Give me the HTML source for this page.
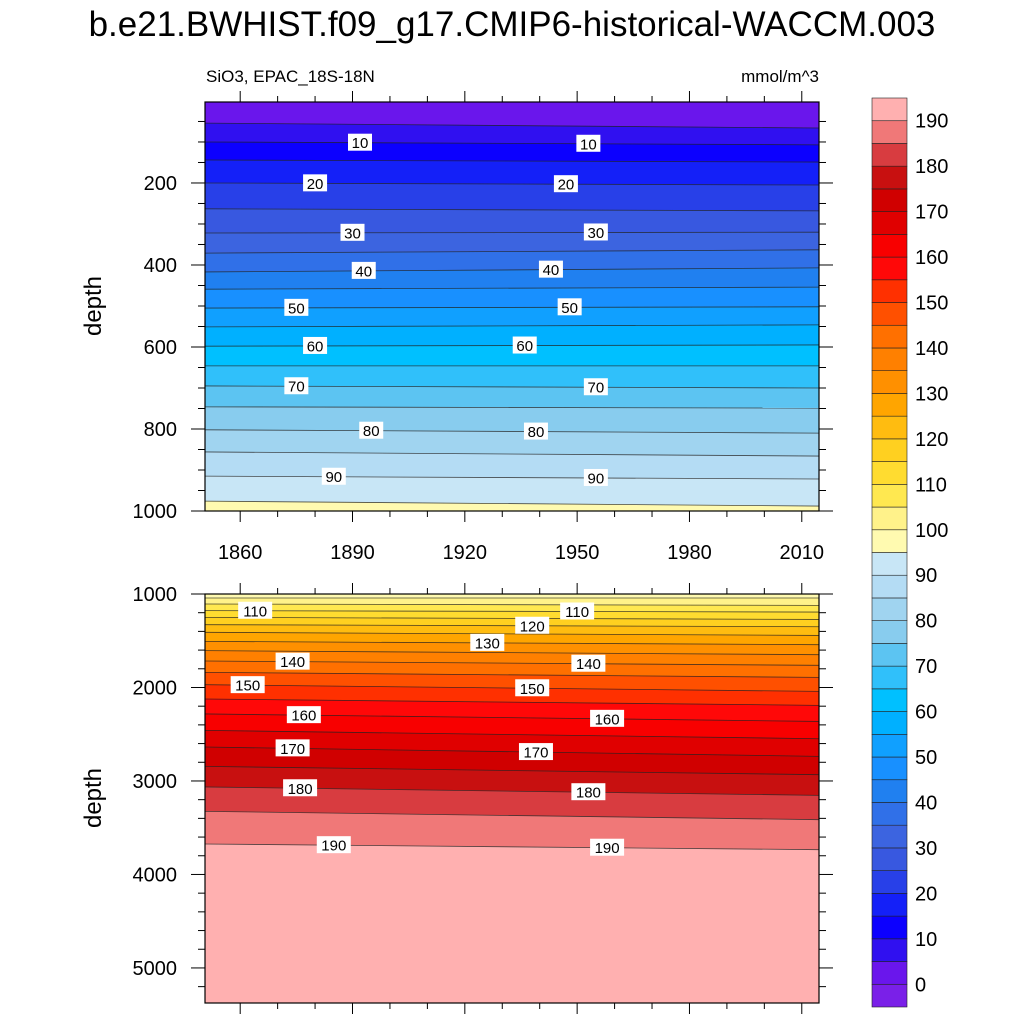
<!DOCTYPE html>
<html><head><meta charset="utf-8"><style>
body{margin:0;background:#fff;}
svg text{font-family:"Liberation Sans",sans-serif;fill:#000;}
</style></head><body>
<svg id="chart" width="1024" height="1024" viewBox="0 0 1024 1024" xmlns="http://www.w3.org/2000/svg">
<text x="512" y="36" font-size="35" text-anchor="middle">b.e21.BWHIST.f09_g17.CMIP6-historical-WACCM.003</text>
<text x="206" y="82" font-size="17">SiO3, EPAC_18S-18N</text>
<text x="819" y="82" font-size="17" text-anchor="end">mmol/m^3</text>
<text transform="translate(101,306) rotate(-90)" font-size="24" text-anchor="middle">depth</text>
<text transform="translate(101,798) rotate(-90)" font-size="24" text-anchor="middle">depth</text>
<g id="g"></g>
</svg>
<script>
// contour levels and their depths (m) at the first and last year
const levels = [5,10,15,20,25,30,35,40,45,50,55,60,65,70,75,80,85,90,95,100,105,110,115,120,125,130,135,140,145,150,155,160,165,170,175,180,185,190];
const depthStart = [54,100,144,200,263,322,371,417,459,505,551,598,646,695,746,802,856,915,976,1043,1107,1178,1250,1328,1410,1507,1606,1717,1838,1970,2123,2283,2459,2637,2844,3064,3325,3674];
const depthEnd = [66,107,149,205,268,320,363,407,454,502,546,595,646,700,749,810,866,922,988,1043,1122,1193,1272,1350,1443,1542,1649,1763,1892,2042,2191,2363,2548,2737,2933,3154,3414,3735];
const bandColors = ["#6A16EC","#3010F0","#0C00FF","#1420F8","#2840E8","#3858E0","#3C64E0","#3070E8","#2080F0","#1890FF","#10A0FF","#00B0FF","#00C0FF","#30C0FA","#5CC4F2","#88CCEE","#A0D4F0","#B4DCF4","#C8E6F6","#FFFAB0","#FFF28A","#FFE850","#FFDC30","#FFD020","#FFBC10","#FFA500","#FF9000","#FF8000","#FF7000","#FF5000","#FF3000","#FF0808","#F80000","#E00000","#D00000","#C81010","#D83C40","#F07878","#FFB0B0"];
const cbColors = ["#7A20E8"].concat(bandColors);
const cbLabels = [0,10,20,30,40,50,60,70,80,90,100,110,120,130,140,150,160,170,180,190];
const yearTicks = [1860,1890,1920,1950,1980,2010];
const topDepthTicks = [200,400,600,800,1000];
const botDepthTicks = [1000,2000,3000,4000,5000];
const labelsTop = [[10,1892],[10,1953],[20,1880],[20,1947],[30,1890],[30,1955],[40,1893],[40,1943],[50,1875],[50,1948],[60,1880],[60,1936],[70,1875],[70,1955],[80,1895],[80,1939],[90,1885],[90,1955]];
const labelsBot = [[110,1864],[110,1950],[120,1938],[130,1926],[140,1874],[140,1953],[150,1862],[150,1938],[160,1877],[160,1958],[170,1874],[170,1939],[180,1876],[180,1953],[190,1885],[190,1958]];

const NS="http://www.w3.org/2000/svg";
const G=document.getElementById('g');
function el(t,a,p){const e=document.createElementNS(NS,t);for(const k in a)e.setAttribute(k,a[k]);(p||G).appendChild(e);return e;}
const X0=205,X1=819,Y0=1850.6,Y1=2014.6;
const xs=y=>X0+(y-Y0)/(Y1-Y0)*(X1-X0);
const panels=[{top:102,bot:511,d0:2.5,d1:1000,ticks:topDepthTicks,minor:50,labels:labelsTop,name:'top'},
              {top:594,bot:1003,d0:1000,d1:5375,ticks:botDepthTicks,minor:200,labels:labelsBot,name:'bottom'}];
function depthAt(i,yr){const f=(yr-Y0)/(Y1-Y0);return depthStart[i]+(depthEnd[i]-depthStart[i])*f;}
panels.forEach(P=>{
  const ys=d=>P.top+(d-P.d0)/(P.d1-P.d0)*(P.bot-P.top);
  const cy=(i,yr)=>Math.max(P.top,Math.min(P.bot,ys(depthAt(i,yr))));
  const clip='clip-'+P.name;
  const cp=el('clipPath',{id:clip});el('rect',{x:X0,y:P.top,width:X1-X0,height:P.bot-P.top},cp);
  const grp=el('g',{'clip-path':'url(#'+clip+')'});
  
  
  for(let b=0;b<=levels.length;b++){
    const ya0 = b===0 ? [P.top,P.top] : [cy(b-1,Y0),cy(b-1,Y1)];
    const ya1 = b===levels.length ? [P.bot,P.bot] : [cy(b,Y0),cy(b,Y1)];
    if(ya1[0]<=P.top&&ya1[1]<=P.top)continue;
    if(ya0[0]>=P.bot&&ya0[1]>=P.bot)continue;
    const p=el('polygon',{points:`${X0},${ya0[0]} ${X1},${ya0[1]} ${X1},${ya1[1]} ${X0},${ya1[0]}`,fill:bandColors[b],stroke:bandColors[b],'stroke-width':0.5},grp);
    
    
  }
  levels.forEach((lv,i)=>{
    const a=ys(depthAt(i,Y0)),c=ys(depthAt(i,Y1));
    if(Math.max(a,c)<P.top||Math.min(a,c)>P.bot)return;
    const l=el('line',{x1:X0,y1:a,x2:X1,y2:c,stroke:'#222','stroke-width':0.8,'stroke-opacity':0.8},grp);
    
    
  });
  P.labels.forEach(([lv,yr])=>{
    const i=levels.indexOf(lv);const x=xs(yr),y=ys(depthAt(i,yr));
    const w=lv>=100?34:24;
    const g2=el('g',{},grp);
    
    
    el('rect',{x:x-w/2,y:y-9,width:w,height:17,fill:'#fff'},g2);
    const t=el('text',{x:x,y:y+5.5,'font-size':15,'text-anchor':'middle'},g2);t.textContent=lv;
  });
  const fr=el('rect',{x:X0,y:P.top,width:X1-X0,height:P.bot-P.top,fill:'none',stroke:'#000','stroke-width':1.2});
  
  
  for(let yr=1860;yr<=2010;yr+=10){
    const x=xs(yr),maj=yearTicks.includes(yr),L=maj?11:6;
    el('line',{x1:x,y1:P.bot,x2:x,y2:P.bot+L,stroke:'#000','stroke-width':1});
    el('line',{x1:x,y1:P.top,x2:x,y2:P.top-L,stroke:'#000','stroke-width':1});
    if(maj&&P.name==='top'){const t=el('text',{x:x,y:P.bot+48,'font-size':20,'text-anchor':'middle'});
      t.textContent=yr;}
  }
  for(let d=Math.ceil(P.d0/P.minor)*P.minor;d<=P.d1;d+=P.minor){
    const y=ys(d),maj=P.ticks.includes(d),L=maj?14:7;
    el('line',{x1:X0,y1:y,x2:X0-L,y2:y,stroke:'#000','stroke-width':1});
    el('line',{x1:X1,y1:y,x2:X1+L,y2:y,stroke:'#000','stroke-width':1});
    if(maj){const t=el('text',{x:X0-28,y:y+7,'font-size':20,'text-anchor':'end'});
      t.textContent=d;}
  }
});
const CBX=872,CBW=35,CBT=98,CBB=1007,n=cbColors.length,h=(CBB-CBT)/n;
const cb=el('g',{});


for(let k=0;k<n;k++){
  const r=el('rect',{x:CBX,y:CBB-(k+1)*h,width:CBW,height:h,fill:cbColors[k],stroke:'#222','stroke-width':0.6},cb);
  
  
}
cbLabels.forEach(v=>{
  const k=v/5+1;const y=CBB-k*h;
  const t=el('text',{x:915,y:y+7,'font-size':20},cb);
  
  
  t.textContent=v;
});
</script>
</body></html>
